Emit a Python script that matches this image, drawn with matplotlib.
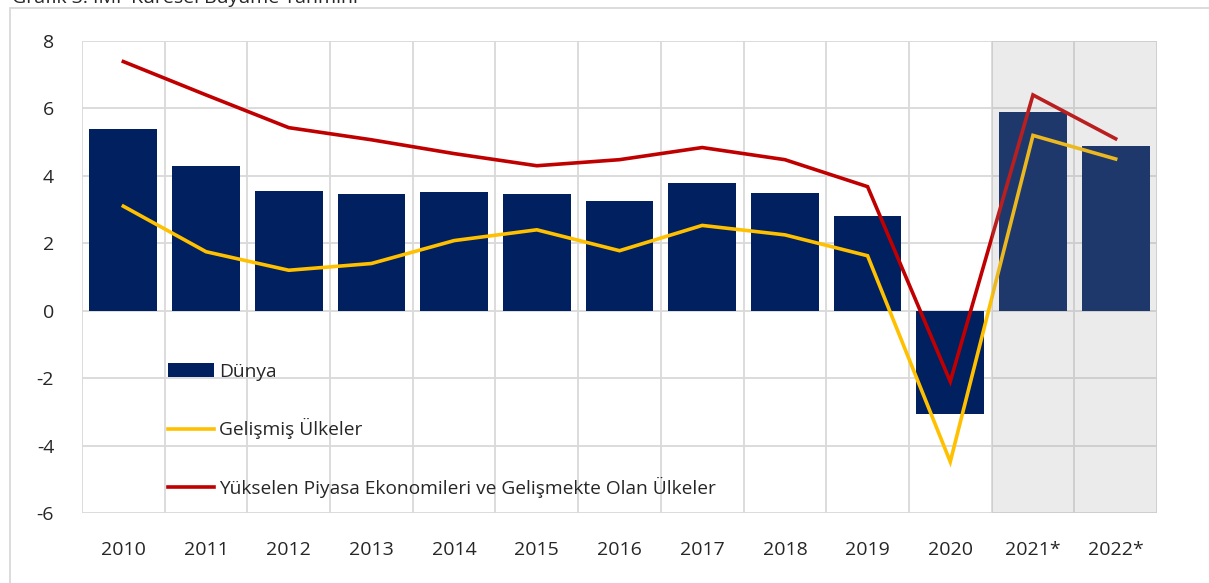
import numpy as np
import matplotlib.pyplot as plt
import matplotlib
from matplotlib.patches import Rectangle

matplotlib.rcParams['font.family'] = ['Open Sans', 'DejaVu Sans']
matplotlib.rcParams['axes.unicode_minus'] = False

years = ['2010', '2011', '2012', '2013', '2014', '2015', '2016',
         '2017', '2018', '2019', '2020', '2021*', '2022*']
dunya = [5.4, 4.3, 3.55, 3.47, 3.53, 3.47, 3.26, 3.8, 3.5, 2.8, -3.06, 5.9, 4.9]
gelismis = [3.1, 1.75, 1.2, 1.4, 2.08, 2.4, 1.78, 2.53, 2.25, 1.63, -4.48, 5.2, 4.5]
yukselen = [7.39, 6.4, 5.43, 5.07, 4.66, 4.3, 4.48, 4.84, 4.48, 3.68, -2.1, 6.4, 5.1]
forecast_start = 11  # index of first forecast year

fig = plt.figure(figsize=(12.09, 5.83), dpi=100)
ax = fig.add_axes([82 / 1209, 1 - 513 / 583, 1075 / 1209, 472 / 583])

x = np.arange(len(years))
b = ax.bar(x, dunya, width=0.82, color='#002060', zorder=2, label='Dünya')
l1, = ax.plot(x, gelismis, color='#FFC000', lw=2.6, zorder=3, label='Gelişmiş Ülkeler',
              solid_joinstyle='miter')
l2, = ax.plot(x, yukselen, color='#C00000', lw=2.6, zorder=3,
              label='Yükselen Piyasa Ekonomileri ve Gelişmekte Olan Ülkeler',
              solid_joinstyle='miter')

# shaded forecast area drawn over everything (semi transparent)
ax.axvspan(forecast_start - 0.5, len(years) - 0.5, color='#9D9D9D', alpha=0.2, zorder=5, lw=0)

ax.set_xlim(-0.5, len(years) - 0.5)
ax.set_ylim(-6, 8)
ax.set_yticks(range(-6, 9, 2))
ax.set_xticks(x)
ax.set_xticklabels(years)
ax.set_xticks(np.arange(-0.5, len(years), 1), minor=True)
ax.tick_params(axis='both', which='both', length=0, labelsize=14, colors='#262626')
ax.tick_params(axis='x', pad=20)
ax.tick_params(axis='y', pad=20)
ax.grid(axis='y', color='#D9D9D9', lw=1.3, zorder=0)
ax.grid(axis='x', which='minor', color='#D9D9D9', lw=1.3, zorder=0)
ax.grid(axis='x', which='major', visible=False)
for s in ax.spines.values():
    s.set_visible(False)

ax.legend(handles=[b, l1, l2], loc='upper left', bbox_to_anchor=(0.08, 0.318), frameon=False,
          fontsize=13.8, labelspacing=1.95, handlelength=2.4, handletextpad=0.27, borderpad=0,
          borderaxespad=0, labelcolor='#262626')

# outer frame and clipped title
fig.patches.append(Rectangle((10 / 1209, -0.1), 1.2, 1.1 - 8 / 583,
                             transform=fig.transFigure, fill=False, edgecolor='#D9D9D9', lw=1.3))
fig.text(12 / 1209, 1 - 3 / 583, 'Grafik 3: IMF Küresel Büyüme Tahmini', fontsize=14,
         color='#262626', va='baseline', ha='left')

plt.savefig('out.png', dpi=100)
plt.close()
